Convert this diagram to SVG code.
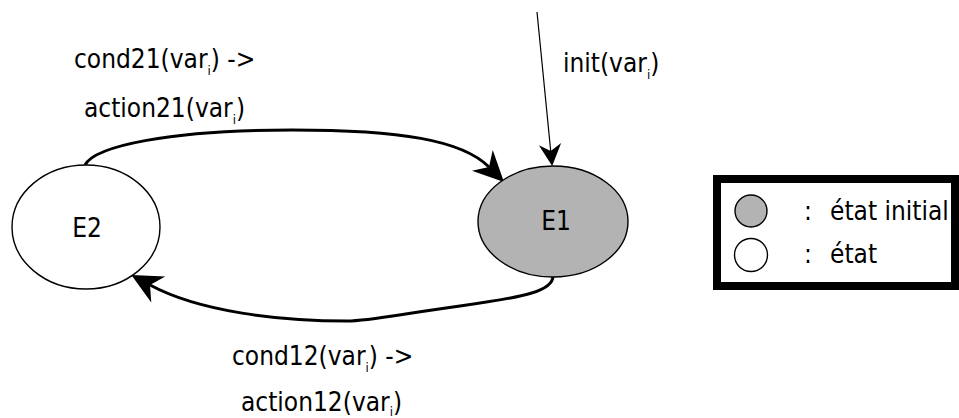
<svg xmlns="http://www.w3.org/2000/svg" width="959" height="418" viewBox="0 0 959 418">
<style>
text{font-family:"DejaVu Sans Condensed","DejaVu Sans",sans-serif;font-stretch:condensed;font-size:26px;fill:#000}
.sub{font-size:13px}
.state{stroke:#000;stroke-width:1.4}
.init{fill:#b3b3b3}
.plain{fill:#fff}
.thick{fill:none;stroke:#000;stroke-width:3}
.thin{fill:none;stroke:#000;stroke-width:1.2}
</style>
<defs>
<marker id="big" markerUnits="userSpaceOnUse" markerWidth="40" markerHeight="40" viewBox="-12 -16 34 32" refX="0" refY="0" orient="auto" overflow="visible">
<path d="M18,0 L-8,-12.5 L0,0 L-8,12.5 Z" fill="#000"/>
</marker>
<marker id="small" markerUnits="userSpaceOnUse" markerWidth="30" markerHeight="30" viewBox="-10 -12 26 24" refX="0" refY="0" orient="auto" overflow="visible">
<path d="M13,0 L-6,-9.7 L0,0 L-6,9.7 Z" fill="#000"/>
</marker>
</defs>
<g id="connectors">
<path class="thick" d="M85,165 C95,146 170,130 292,130 C400,130 462,140 489,167" marker-end="url(#big)"/>
<path class="thick" d="M553,276 C553,291 525,297 460,306 C400,314 370,321 347,321 C280,321 200,312 150,285" marker-end="url(#big)"/>
<path class="thin" d="M537,12 L550.7,151" marker-end="url(#small)"/>
</g>
<g id="E2">
<ellipse class="state plain" cx="86" cy="227" rx="74" ry="62"/>
<text x="87" y="237" text-anchor="middle">E2</text>
</g>
<g id="E1">
<ellipse class="state init" cx="553" cy="221.5" rx="75" ry="55.5"/>
<text x="556" y="230" text-anchor="middle">E1</text>
</g>
<g id="labels">
<text x="74" y="68">cond21(var<tspan class="sub" dy="7">i</tspan><tspan dy="-7">) -&gt;</tspan></text>
<text x="84" y="117">action21(var<tspan class="sub" dy="7">i</tspan><tspan dy="-7">)</tspan></text>
<text x="563" y="72">init(var<tspan class="sub" dy="7">i</tspan><tspan dy="-7">)</tspan></text>
<text x="232" y="365">cond12(var<tspan class="sub" dy="7">i</tspan><tspan dy="-7">) -&gt;</tspan></text>
<text x="241" y="411">action12(var<tspan class="sub" dy="5">i</tspan><tspan dy="-5">)</tspan></text>
</g>
<g id="legend">
<rect x="717" y="179" width="238" height="107" fill="#fff" stroke="#000" stroke-width="8"/>
<circle class="state init" cx="751" cy="211" r="16"/>
<circle class="state plain" cx="751" cy="255" r="16.5"/>
<text x="804" y="220">:<tspan x="830">état initial</tspan></text>
<text x="804" y="263">:<tspan x="830">état</tspan></text>
</g>
</svg>
